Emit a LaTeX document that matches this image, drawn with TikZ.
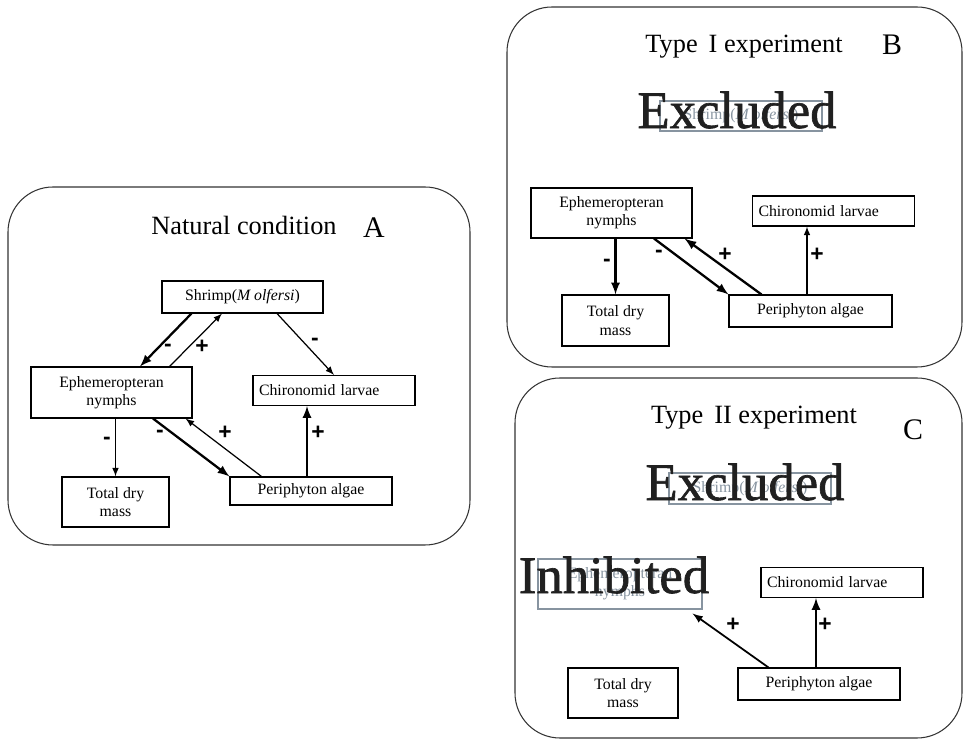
\documentclass[tikz,border=0pt]{standalone}
\usepackage{fontspec}
\setmainfont{Liberation Serif}
\newfontfamily\signfont{Liberation Sans}
\newfontfamily\heavyfont[FakeBold=1.2]{Liberation Serif}
\usetikzlibrary{shapes}
\usetikzlibrary{arrows}
\usetikzlibrary{calc}
\definecolor{ghost}{RGB}{135,148,160}
\definecolor{ink}{RGB}{32,32,32}

\begin{document}
\begin{tikzpicture}[x=0.02cm,y=-0.02cm]
				\tikzstyle{panel}=[draw=black!80,line width=0.6pt,rounded corners=0.9cm]
				\tikzstyle{box}=[rectangle,draw,line width=0.6pt,inner sep=1pt,align=center,font=\fontsize{9}{10.5}\selectfont]
				\tikzstyle{chibox}=[box,inner xsep=0.12cm,text width=3.0cm,align=left,minimum height=0.6cm]
				\tikzstyle{ghostbox}=[box,draw=ghost,text=ghost]
				\tikzstyle{title}=[font=\fontsize{15}{18}\selectfont]
				\tikzstyle{letter}=[font=\fontsize{17}{20}\selectfont]
				\tikzstyle{big}=[text=ink,font=\heavyfont\fontsize{30}{34}\selectfont]
				\tikzstyle{sign}=[font=\signfont\bfseries\fontsize{13}{15}\selectfont]
				\tikzstyle{thin}=[-latex,line width=0.7pt]
				\tikzstyle{bold}=[-latex,line width=1.3pt]
				\useasboundingbox (0,0) rectangle (964,742);

				\draw[panel] (8,187) rectangle (470,545);
				\node[title] (tA) at (244,225) {Natural condition};
				\node[letter] (lA) at (374,228) {A};
				\node[box,minimum width=3.22cm,minimum height=0.64cm] (shrA) at (242.5,297) {Shrimp(\textit{M olfersi})};
				\node[box,minimum width=3.22cm,minimum height=1.02cm] (ephA) at (111.5,392.5) {Ephemeropteran\\nymphs};
				\node[chibox] (chiA) at (334,390.5) {Chironomid larvae};
				\node[box,minimum width=2.14cm,minimum height=1.0cm] (totA) at (115.5,502) {Total dry\\mass};
				\node[box,minimum width=3.24cm,minimum height=0.56cm] (perA) at (311,491) {Periphyton algae};
				\draw[bold] ($(shrA.south west)+(30,0)$) -- ($(ephA.north)+(28.5,0)$);
				\draw[thin] ($(ephA.north east)+(-23,0)$) -- ($(shrA.south)+(-20.5,0)$);
				\draw[thin] ($(shrA.south)+(34.5,0)$) -- (chiA.north);
				\draw[thin] (ephA.south -| totA.north) -- (totA.north);
				\draw[bold] ($(ephA.south)+(41.5,0)$) -- (perA.north west);
				\draw[thin] ($(perA.north west)+(32,0)$) -- ($(ephA.south east)+(-7,0)$);
				\coordinate (pcA) at ($(perA.north)+(-4,0)$);
				\draw[bold] (pcA) -- (pcA |- chiA.south);
				\node[sign] (sA1) at (168,348) {-};
				\node[sign] (sA2) at (202,347) {+};
				\node[sign] (sA3) at (315,342) {-};
				\node[sign] (sA4) at (107,441) {-};
				\node[sign] (sA5) at (160,434) {-};
				\node[sign] (sA6) at (225,433) {+};
				\node[sign] (sA7) at (318,433) {+};

				\draw[panel] (507,7) rectangle (962,367);
				\node[title] (tB) at (744,47) {Type\, I experiment};
				\node[letter] (lB) at (892,45) {B};
				\node[ghostbox,minimum width=3.24cm,minimum height=0.6cm] (shrB) at (741,116) {Shrimp(\textit{M olfersi})};
				\node[big] (xB) at (737,110) {Excluded};
				\node[box,minimum width=3.22cm,minimum height=1.0cm] (ephB) at (611.5,213) {Ephemeropteran\\nymphs};
				\node[chibox] (chiB) at (833.5,211) {Chironomid larvae};
				\node[box,minimum width=2.14cm,minimum height=1.02cm] (totB) at (615.5,320.5) {Total dry\\mass};
				\node[box,minimum width=3.26cm,minimum height=0.64cm] (perB) at (810.5,311) {Periphyton algae};
				\draw[bold] (ephB.south -| totB.north) -- (totB.north);
				\draw[bold] ($(ephB.south)+(42.5,0)$) -- (perB.north west);
				\draw[bold] ($(perB.north west)+(33,0)$) -- ($(ephB.south east)+(-8,0)$);
				\coordinate (pcB) at ($(perB.north)+(-3.5,0)$);
				\draw[thin] (pcB) -- (pcB |- chiB.south);
				\node[sign] (sB1) at (607,263) {-};
				\node[sign] (sB2) at (659,254) {-};
				\node[sign] (sB3) at (725,255) {+};
				\node[sign] (sB4) at (817,255) {+};

				\draw[panel] (515,378) rectangle (962,738);
				\node[title] (tC) at (754,418) {Type\, II experiment};
				\node[letter] (lC) at (913,430) {C};
				\node[ghostbox,minimum width=3.24cm,minimum height=0.62cm] (shrC) at (750,488.5) {Shrimp(\textit{M olfersi})};
				\node[big] (xC) at (745,482) {Excluded};
				\node[ghostbox,minimum width=3.28cm,minimum height=1.0cm] (ephC) at (620,584) {Ephemeropteran\\nymphs};
				\node[big] (iC) at (614,575) {Inhibited};
				\node[chibox] (chiC) at (842,582.5) {Chironomid larvae};
				\node[box,minimum width=2.2cm,minimum height=1.0cm] (totC) at (623,693) {Total dry\\mass};
				\node[box,minimum width=3.24cm,minimum height=0.64cm] (perC) at (819,684) {Periphyton algae};
				\draw[thin,line width=1pt] ($(perC.north west)+(31,0)$) -- ($(ephC.south east)+(-10,4)$);
				\coordinate (pcC) at ($(perC.north)+(-3,0)$);
				\draw[bold] (pcC) -- (pcC |- chiC.south);
				\node[sign] (sC1) at (733,625) {+};
				\node[sign] (sC2) at (825,625) {+};
\end{tikzpicture}
\end{document}
